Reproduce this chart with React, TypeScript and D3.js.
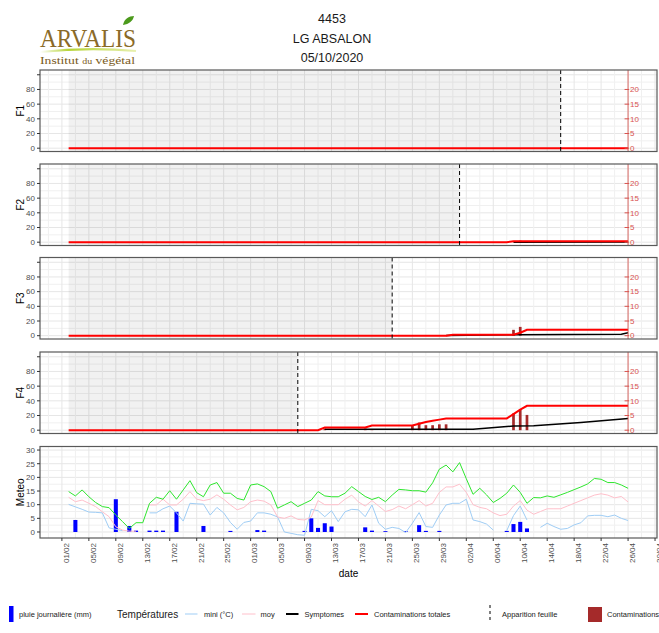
import React from 'react';
import * as d3 from 'd3';

// ---------- DATA ----------
const titleLines = ['4453', 'LG ABSALON', '05/10/2020'];
const leafNames = ['F1', 'F2', 'F3', 'F4'];
const leafAppearance = ['2021-04-16', '2021-04-01', '2021-03-22', '2021-03-08'];
const dataStart = '2021-02-02';
const dataEnd = '2021-04-26';
const axisStart = '2021-01-28T18:00:00Z';
const axisEnd = '2021-04-30T07:00:00Z';

const xTickLabels = ['01/02', '05/02', '09/02', '13/02', '17/02', '21/02', '25/02', '01/03', '05/03', '09/03', '13/03', '17/03', '21/03', '25/03', '29/03', '02/04', '06/04', '10/04', '14/04', '18/04', '22/04', '26/04', '30/04'];
const leafYTicks = [0, 20, 40, 60, 80, 100];
const leafYTickLabels = ['0', '20', '40', '60', '80', ''];
const rightTicks = [0, 5, 10, 15, 20];
const meteoYTicks = [0, 5, 10, 15, 20, 25, 30];

// temperatures, one value per day from 02/02 to 26/04 (null = missing)
const tMax = [14.8, 13.2, 15.4, 12.9, 10.8, 9.3, 8.9, 6.2, 3.8, 1.3,
  3.4, 3.4, 10.5, 12.7, 12.0, 15.1, 12.0, 15.4, 18.8, 14.4,
  12.9, 17.2, 18.1, 14.2, 14.2, 12.3, 11.7, 17.2, 17.6, 16.6,
  14.8, 8.7, 9.9, 11.1, 9.3, 10.5, 11.7, 14.8, 13.2, 12.9,
  12.9, 14.2, 16.6, 14.8, 13.0, 11.9, 12.7, 11.1, 13.5, 15.6,
  15.4, 15.1, 15.1, 14.6, 18.0, 23.0, 24.5, 22.0, 25.4, 19.5,
  13.8, 16.0, 13.6, 10.8, 12.3, 14.2, 17.2, 14.5, 10.5, 12.6,
  12.5, 13.2, 12.7, 13.6, 14.5, 15.5, 16.5, 17.6, 19.6, 19.3,
  18.1, 18.1, 17.2, 16.0];
const tMoy = [12.7, 11.1, 11.7, 10.5, 9.3, 7.4, 5.6, 1.9, 0.7, 0.3,
  0.3, null, 9.9, 9.9, 12.0, 9.9, 9.9, 12.0, 14.8, 12.0,
  11.5, 12.0, 13.6, 12.0, 9.9, 8.1, 9.0, 11.1, 11.7, 11.3,
  9.9, 5.5, 5.0, 5.9, 4.6, 4.4, 5.5, 11.5, 10.0, 10.0,
  10.0, 12.0, 13.5, 11.0, 9.5, 11.5, 9.5, 7.5, 8.2, 9.5,
  8.5, 10.0, 11.5, 9.5, 10.5, 14.5, 16.5, 16.5, 17.5, 14.5,
  10.0, 9.0, 8.5, 7.0, 6.0, 6.5, 9.5, 11.5, 8.0, 6.5,
  7.5, 8.5, 8.5, 8.5, 9.5, 10.5, 11.5, 12.5, 13.5, 14.0,
  13.5, 12.5, 13.0, 11.0];
const tMin = [10.1, 9.2, 8.3, 7.3, 7.2, 7.0, 1.5, 1.0, 0.5, null,
  null, null, 7.0, 7.0, 8.5, 9.5, 7.0, 4.0, 10.5, 10.3,
  10.2, 6.2, 9.0, 7.0, 3.5, 1.0, 3.5, 4.0, 7.0, 7.0,
  6.5, 5.5, 0.0, -0.5, -1.0, -1.2, 8.3, 7.8, 5.6, 7.8,
  3.8, 7.4, 8.3, 8.1, 5.6, 9.9, 3.2, 1.0, 1.7, 1.3,
  -0.2, 3.2, 7.1, 2.0, 1.7, 6.2, 9.9, 10.5, 10.5, 12.0,
  4.4, 3.8, 2.9, 0.7, null, 0.5, 6.0, 9.5, 4.4, null,
  1.7, 3.2, 2.0, 1.0, 1.3, 2.6, 3.4, 5.9, 6.1, 6.1,
  5.6, 6.2, 5.0, 4.2];

const rainDates = ['2021-02-03', '2021-02-09', '2021-02-11', '2021-02-12', '2021-02-14', '2021-02-15', '2021-02-16', '2021-02-18', '2021-02-22', '2021-02-26', '2021-03-02', '2021-03-03', '2021-03-09', '2021-03-10', '2021-03-11', '2021-03-12', '2021-03-13', '2021-03-18', '2021-03-19', '2021-03-21', '2021-03-24', '2021-03-26', '2021-03-27', '2021-03-29', '2021-04-08', '2021-04-09', '2021-04-10', '2021-04-11'];
const rainMm = [4.4, 12.0, 2.2, 0.5, 0.5, 0.5, 0.5, 7.4, 2.2, 0.4, 0.7, 0.5, 0.4, 5.0, 1.5, 3.2, 2.0, 1.7, 0.5, 0.3, 0.3, 2.5, 0.4, 0.4, 0.4, 2.9, 3.7, 1.3];

// contaminations totales (right axis)
const totDatesF1 = ['2021-02-02', '2021-04-26'];
const totValsF1 = [0, 0];
const totDatesF2 = ['2021-02-02', '2021-04-08', '2021-04-09', '2021-04-26'];
const totValsF2 = [0, 0, 0.3, 0.3];
const totDatesF3 = ['2021-02-02', '2021-03-30', '2021-03-31', '2021-04-09', '2021-04-10', '2021-04-11', '2021-04-26'];
const totValsF3 = [0, 0, 0.3, 0.3, 1.0, 2.0, 2.0];
const totDatesF4 = ['2021-02-02', '2021-03-11', '2021-03-12', '2021-03-18', '2021-03-19', '2021-03-25', '2021-03-26', '2021-03-27', '2021-03-28', '2021-03-29', '2021-03-30', '2021-04-08', '2021-04-09', '2021-04-10', '2021-04-11', '2021-04-26'];
const totValsF4 = [0, 0, 0.9, 0.9, 1.6, 1.6, 2.2, 2.8, 3.2, 3.6, 4.0, 4.0, 5.5, 7.0, 8.3, 8.3];

// symptomes
const symDatesF1: string[] = [];
const symValsF1: number[] = [];
const symDatesF2 = ['2021-04-09', '2021-04-26'];
const symValsF2 = [0, 0.1];
const symDatesF3 = ['2021-03-30', '2021-04-09', '2021-04-25', '2021-04-26'];
const symValsF3 = [0.1, 0.3, 0.5, 1.0];
const symDatesF4 = ['2021-03-12', '2021-04-03', '2021-04-09', '2021-04-12', '2021-04-19', '2021-04-26'];
const symValsF4 = [0.3, 0.3, 1.4, 1.5, 2.6, 4.0];

// contaminations (daily bars)
const conDatesF1: string[] = [];
const conValsF1: number[] = [];
const conDatesF2 = ['2021-04-10'];
const conValsF2 = [0.5];
const conDatesF3 = ['2021-04-09', '2021-04-10'];
const conValsF3 = [2.0, 3.0];
const conDatesF4 = ['2021-03-12', '2021-03-18', '2021-03-19', '2021-03-25', '2021-03-26', '2021-03-27', '2021-03-28', '2021-03-29', '2021-03-30', '2021-04-09', '2021-04-10', '2021-04-11'];
const conValsF4 = [0.5, 0.6, 0.3, 1.7, 2.6, 1.7, 1.7, 2.0, 2.0, 5.7, 6.9, 5.2];

const totDates = [totDatesF1, totDatesF2, totDatesF3, totDatesF4];
const totVals = [totValsF1, totValsF2, totValsF3, totValsF4];
const symDates = [symDatesF1, symDatesF2, symDatesF3, symDatesF4];
const symVals = [symValsF1, symValsF2, symValsF3, symValsF4];
const conDates = [conDatesF1, conDatesF2, conDatesF3, conDatesF4];
const conVals = [conValsF1, conValsF2, conValsF3, conValsF4];

// ---------- LAYOUT / STYLE ----------
const W = 659, H = 633;
const PL = 40, PR = 657;
const panelTops = [70, 164, 257.5, 352];
const panelH = 81.5;
const meteoTop = 446.5, meteoH = 91.5;
const FONT = "'Liberation Sans', Arial, Helvetica, sans-serif";
const SERIF = "'Liberation Serif', 'DejaVu Serif', serif";
const GRID = '#e6e6e6';
const GRID_MINOR = '#f0f0f0';
const AXIS_TXT = '#4d4d4d';
const RED_AXIS = '#d9534f';
const C_MAX = '#2ee62e';
const C_MOY = '#ffc0cb';
const C_MIN = '#9fcdf5';
const C_RAIN = '#0000ff';
const C_CON = '#a52a2a';

const parse = (s: string) => new Date(s + 'T00:00:00Z');

export default function App() {
  const x = d3.scaleUtc().domain([new Date(axisStart), new Date(axisEnd)]).range([PL, PR]);
  const tickDates = d3.utcDay.range(parse('2021-02-01'), parse('2021-05-01'), 4);
  const minorDates = d3.utcDay.range(parse('2021-01-30'), parse('2021-05-01'), 4);
  const meteoDates = d3.utcDay.range(parse(dataStart), d3.utcDay.offset(parse(dataEnd), 1));
  const dayW = x(parse('2021-02-02')) - x(parse('2021-02-01'));

  const vGrid = (top: number, h: number) => (
    <g>
      {minorDates.map((d, i) => (
        <line key={'m' + i} x1={x(d)} x2={x(d)} y1={top} y2={top + h} stroke={GRID_MINOR} strokeWidth={1} />
      ))}
      {tickDates.map((d, i) => (
        <line key={'M' + i} x1={x(d)} x2={x(d)} y1={top} y2={top + h} stroke={GRID} strokeWidth={1} />
      ))}
    </g>
  );

  const leafPanels = leafNames.map((name, i) => {
    const top = panelTops[i];
    const y = d3.scaleLinear().domain([-4.5, 106.5]).range([top + panelH, top]);
    const yR = d3.scaleLinear().domain([-4.5 / 4, 106.5 / 4]).range([top + panelH, top]);
    const leafX = x(parse(leafAppearance[i]));
    const axisX = x(parse(dataEnd));
    const line = d3.line<[string, number]>().x(d => x(parse(d[0]))).y(d => yR(d[1]));
    const tot = totDates[i].map((d, k) => [d, totVals[i][k]] as [string, number]);
    const sym = symDates[i].map((d, k) => [d, symVals[i][k]] as [string, number]);
    const minorY = d3.range(10, 100, 20);
    return (
      <g key={name}>
        <rect x={PL} y={top} width={PR - PL} height={panelH} fill="#fff" />
        {minorY.map(v => <line key={'hm' + v} x1={PL} x2={PR} y1={y(v)} y2={y(v)} stroke={GRID_MINOR} />)}
        {leafYTicks.map(v => <line key={'hM' + v} x1={PL} x2={PR} y1={y(v)} y2={y(v)} stroke={GRID} />)}
        {vGrid(top, panelH)}
        <rect x={x(parse(dataStart))} y={top} width={leafX - x(parse(dataStart))} height={panelH} fill="#000" opacity={0.055} />
        {conDates[i].map((d, k) => (
          <rect key={'c' + k} x={x(parse(d)) - dayW * 0.2} width={dayW * 0.4} y={yR(conVals[i][k])} height={yR(0) - yR(conVals[i][k])} fill={C_CON} />
        ))}
        {sym.length > 0 && <path d={line(sym) || ''} fill="none" stroke="#000" strokeWidth={1.5} />}
        <path d={line(tot) || ''} fill="none" stroke="#ff0000" strokeWidth={2} />
        <line x1={leafX} x2={leafX} y1={top} y2={top + panelH} stroke="#000" strokeWidth={1} strokeDasharray="4,3" />
        <line x1={axisX} x2={axisX} y1={top} y2={top + panelH} stroke={RED_AXIS} strokeWidth={1} opacity={0.85} />
        {rightTicks.map(v => (
          <g key={'r' + v}>
            <line x1={axisX - 3.5} x2={axisX + 1} y1={yR(v)} y2={yR(v)} stroke={RED_AXIS} strokeWidth={1} />
            <text x={axisX + 2} y={yR(v)} dy="0.35em" fontSize={8} fill={RED_AXIS} fontFamily={FONT}>{v}</text>
          </g>
        ))}
        <rect x={PL} y={top} width={PR - PL} height={panelH} fill="none" stroke="#595959" strokeWidth={1.2} />
        {leafYTicks.map((v, k) => (
          <g key={'l' + v}>
            <line x1={PL - 3} x2={PL} y1={y(v)} y2={y(v)} stroke="#333" />
            <text x={PL - 5} y={y(v)} dy="0.35em" textAnchor="end" fontSize={8} fill={AXIS_TXT} fontFamily={FONT}>{leafYTickLabels[k]}</text>
          </g>
        ))}
        <text transform={`translate(20,${top + panelH / 2}) rotate(-90)`} textAnchor="middle" dy="0.35em" fontSize={10} fontFamily={FONT} fill="#000">{name}</text>
      </g>
    );
  });

  // meteo panel
  const ym = d3.scaleLinear().domain([-2.2, 31.3]).range([meteoTop + meteoH, meteoTop]);
  const tLine = d3.line<number | null>()
    .defined(v => v !== null)
    .x((_, i) => x(meteoDates[i]))
    .y(v => ym(v as number));
  const meteoMinor = d3.range(2.5, 30, 5);

  const legY = 614;

  return (
    <svg width={W} height={H} style={{ position: 'absolute', left: 0, top: 0, background: '#fff' }} fontFamily={FONT}>
      <defs>
        <clipPath id="moyclip"><rect x={0} y={590} width={276} height={43} /></clipPath>
        <linearGradient id="swoosh" x1="0" x2="1" y1="0" y2="0">
          <stop offset="0" stopColor="#ffffff" />
          <stop offset="0.3" stopColor="#b5d334" />
          <stop offset="1" stopColor="#e8f0b0" />
        </linearGradient>
      </defs>
      <rect x={0} y={0} width={W} height={H} fill="#fff" />

      {/* logo */}
      <g>
        <text x={40} y={47} fontFamily={SERIF} fontSize={25} fill="#8a6a28" textLength={96} lengthAdjust="spacingAndGlyphs">ARVALIS</text>
        <path d="M123,25 C124,19 129,16 134,16 C133,21 129,24 123,25 Z" fill="#4c9a1c" />
        <path d="M40,52 Q88,47 136,51" stroke="url(#swoosh)" strokeWidth={2.2} fill="none" />
        <text x={40} y={64} fontFamily={SERIF} fontSize={11} fill="#7a5a22" textLength={95} lengthAdjust="spacingAndGlyphs">
          Institut <tspan fontSize={8}>du</tspan> végétal
        </text>
      </g>

      {/* titles */}
      {titleLines.map((t, i) => (
        <text key={t} x={332} y={23 + i * 19.5} textAnchor="middle" fontSize={12.5} fill="#1a1a1a">{t}</text>
      ))}

      {leafPanels}

      {/* meteo */}
      <g>
        <rect x={PL} y={meteoTop} width={PR - PL} height={meteoH} fill="#fff" />
        {meteoMinor.map(v => <line key={'mm' + v} x1={PL} x2={PR} y1={ym(v)} y2={ym(v)} stroke={GRID_MINOR} />)}
        {meteoYTicks.map(v => <line key={'mM' + v} x1={PL} x2={PR} y1={ym(v)} y2={ym(v)} stroke={GRID} />)}
        {vGrid(meteoTop, meteoH)}
        {rainDates.map((d, k) => (
          <rect key={'rain' + k} x={x(parse(d)) - dayW * 0.3} width={dayW * 0.6} y={ym(rainMm[k])} height={ym(0) - ym(rainMm[k])} fill={C_RAIN} />
        ))}
        <path d={tLine(tMin) || ''} fill="none" stroke={C_MIN} strokeWidth={1} />
        <path d={tLine(tMoy) || ''} fill="none" stroke={C_MOY} strokeWidth={1} />
        <path d={tLine(tMax) || ''} fill="none" stroke={C_MAX} strokeWidth={1} />
        <rect x={PL} y={meteoTop} width={PR - PL} height={meteoH} fill="none" stroke="#595959" strokeWidth={1.2} />
        {meteoYTicks.map(v => (
          <g key={'my' + v}>
            <line x1={PL - 3} x2={PL} y1={ym(v)} y2={ym(v)} stroke="#333" />
            <text x={PL - 5} y={ym(v)} dy="0.35em" textAnchor="end" fontSize={8} fill={AXIS_TXT}>{v}</text>
          </g>
        ))}
        <text transform={`translate(20,${meteoTop + meteoH / 2}) rotate(-90)`} textAnchor="middle" dy="0.35em" fontSize={10} fill="#000">Meteo</text>
        {tickDates.map((d, i) => (
          <g key={'xt' + i}>
            <line x1={x(d)} x2={x(d)} y1={meteoTop + meteoH} y2={meteoTop + meteoH + 3} stroke="#333" />
            <text transform={`translate(${x(d) + 4},${meteoTop + meteoH + 5}) rotate(-90)`} textAnchor="end" dy="0.35em" fontSize={8} fill={AXIS_TXT}>{xTickLabels[i]}</text>
          </g>
        ))}
        <text x={(PL + PR) / 2} y={577} textAnchor="middle" fontSize={10} fill="#000">date</text>
      </g>

      {/* legend */}
      <g fontSize={7.5} fill="#1a1a1a">
        <rect x={9} y={606} width={4.5} height={16} fill={C_RAIN} />
        <text x={19} y={legY} dy="0.35em">pluie journalière (mm)</text>
        <text x={117} y={legY} dy="0.35em" fontSize={10}>Températures</text>
        <line x1={185} x2={197.5} y1={legY} y2={legY} stroke={C_MIN} strokeWidth={1} />
        <text x={204} y={legY} dy="0.35em">mini (°C)</text>
        <line x1={242} x2={255.5} y1={legY} y2={legY} stroke={C_MOY} strokeWidth={1} />
        <text x={260.5} y={legY} dy="0.35em" clipPath="url(#moyclip)">moy (°C)</text>
        <line x1={286} x2={298.5} y1={legY} y2={legY} stroke="#000" strokeWidth={2} />
        <text x={304.5} y={legY} dy="0.35em">Symptomes</text>
        <line x1={355} x2={368} y1={legY} y2={legY} stroke="#ff0000" strokeWidth={2} />
        <text x={374} y={legY} dy="0.35em">Contaminations totales</text>
        <line x1={490} x2={490} y1={605} y2={623} stroke="#000" strokeWidth={1} strokeDasharray="3,3" />
        <text x={502} y={legY} dy="0.35em">Apparition feuille</text>
        <rect x={588} y={607} width={14} height={15} fill={C_CON} />
        <text x={607} y={legY} dy="0.35em">Contaminations journalières</text>
      </g>
    </svg>
  );
}
